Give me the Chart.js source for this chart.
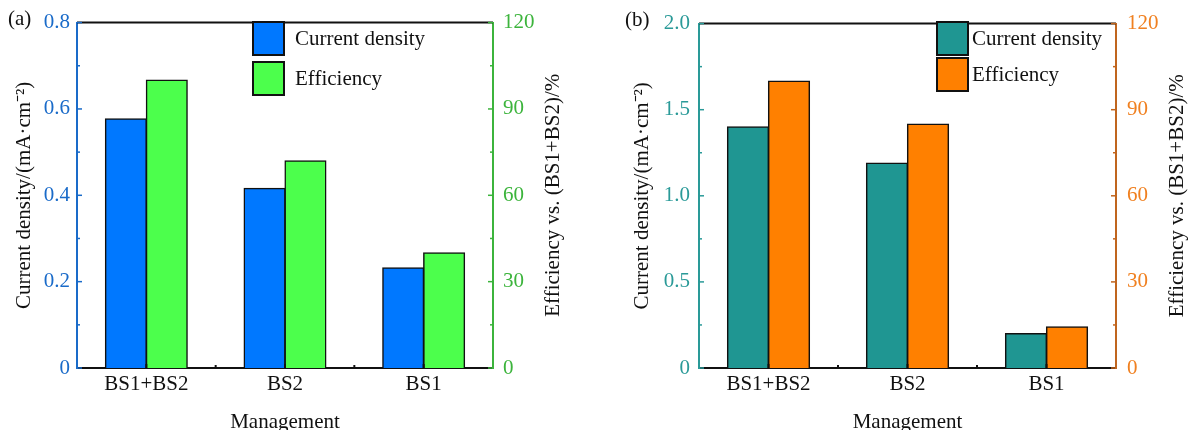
<!DOCTYPE html>
<html>
<head>
<meta charset="utf-8">
<script src="https://cdn.jsdelivr.net/npm/chart.js@4"></script>
<style>
  html, body { margin: 0; padding: 0; background: #ffffff; }
  #wrap { position: relative; width: 1192px; height: 430px; overflow: hidden; }
  .panel { position: absolute; top: 0; width: 596px; height: 430px; }
  canvas { display: block; }
</style>
</head>
<body>
<div id="wrap">
  <div class="panel" style="left:0"><canvas id="chartA" width="596" height="430"></canvas></div>
  <div class="panel" style="left:596px"><canvas id="chartB" width="596" height="430"></canvas></div>
</div>
<script>
// Treatments on the x axis
const categories = ['BS1+BS2', 'BS2', 'BS1'];
const seriesNames = ['Current density', 'Efficiency'];

// Panel (a)
const densityA = [0.577, 0.416, 0.232];     // mA·cm⁻²
const efficiencyA = [100, 72, 40];          // % of BS1+BS2
const leftTicksA = ['0', '0.2', '0.4', '0.6', '0.8'];
const rightTicksA = ['0', '30', '60', '90', '120'];

// Panel (b)
const densityB = [1.40, 1.19, 0.20];
const efficiencyB = [100, 85, 14.3];
const leftTicksB = ['0', '0.5', '1.0', '1.5', '2.0'];
const rightTicksB = ['0', '30', '60', '90', '120'];

const FONT = "'Liberation Serif', 'Times New Roman', serif";

// Frame, inward ticks, axis titles, panel tag and legend
const decorPlugin = {
  id: 'decor',
  afterDatasetsDraw(chart, args, o) {
    const ctx = chart.ctx;
    const ca = chart.chartArea;
    const yL = chart.scales.y, yR = chart.scales.y2, x = chart.scales.x;
    ctx.save();

    // top frame line
    ctx.strokeStyle = '#111';
    ctx.lineWidth = 2;
    ctx.beginPath();
    ctx.moveTo(ca.left, ca.top);
    ctx.lineTo(ca.right, ca.top);
    ctx.stroke();

    // inward ticks (major + minor) on both value axes
    const drawAxisTicks = (scale, xEdge, dir, color) => {
      const t = scale.ticks.map(k => k.value);
      ctx.strokeStyle = color;
      ctx.lineWidth = 1.5;
      for (let i = 0; i < t.length; i++) {
        const py = scale.getPixelForValue(t[i]);
        ctx.beginPath(); ctx.moveTo(xEdge, py); ctx.lineTo(xEdge + dir * 5, py); ctx.stroke();
        if (i < t.length - 1) {
          const pm = scale.getPixelForValue((t[i] + t[i + 1]) / 2);
          ctx.beginPath(); ctx.moveTo(xEdge, pm); ctx.lineTo(xEdge + dir * 3, pm); ctx.stroke();
        }
      }
    };
    drawAxisTicks(yL, ca.left, 1, o.leftColor);
    drawAxisTicks(yR, ca.right, -1, o.rightColor);

    // category ticks on the bottom axis
    ctx.strokeStyle = '#111';
    ctx.lineWidth = 2;
    const n = categories.length;
    for (let i = 0; i < n; i++) {
      const cx = x.getPixelForValue(i);
      ctx.beginPath(); ctx.moveTo(cx, ca.bottom); ctx.lineTo(cx, ca.bottom - 4); ctx.stroke();
      if (i < n - 1) {
        const bx = (cx + x.getPixelForValue(i + 1)) / 2;
        ctx.beginPath(); ctx.moveTo(bx, ca.bottom); ctx.lineTo(bx, ca.bottom - 3); ctx.stroke();
      }
    }
    ctx.restore();
  },
  afterDraw(chart, args, o) {
    const ctx = chart.ctx;
    const ca = chart.chartArea;
    const midY = (ca.top + ca.bottom) / 2;
    ctx.save();
    ctx.font = '21px ' + FONT;
    ctx.fillStyle = '#111';
    ctx.textBaseline = 'middle';

    // panel tag
    ctx.textAlign = 'left';
    ctx.fillText(o.tag, o.tagX, o.tagY);

    // x axis title
    ctx.textAlign = 'center';
    ctx.fillText(o.xTitle, (ca.left + ca.right) / 2, o.xTitleY);

    // y axis titles, both reading upward
    ctx.save();
    ctx.translate(o.leftTitleX, midY);
    ctx.rotate(-Math.PI / 2);
    ctx.fillText(o.leftTitle, 0, 0);
    ctx.restore();
    ctx.save();
    ctx.translate(o.rightTitleX, midY);
    ctx.rotate(-Math.PI / 2);
    ctx.fillText(o.rightTitle, 0, 0);
    ctx.restore();

    // legend
    ctx.textAlign = 'left';
    chart.data.datasets.forEach((ds, i) => {
      const bx = ca.left + o.legendX;
      const by = o.legendY + i * o.legendGap;
      ctx.fillStyle = ds.backgroundColor;
      ctx.fillRect(bx, by, 31, 33);
      ctx.strokeStyle = '#111';
      ctx.lineWidth = 2;
      ctx.strokeRect(bx, by, 31, 33);
      ctx.fillStyle = '#111';
      ctx.fillText(ds.label, bx + o.textGap, by + 17);
    });
    ctx.restore();
  }
};

function makeChart(id, density, efficiency, leftMax, leftStep, leftTicks, rightTicks, style) {
  return new Chart(document.getElementById(id), {
    type: 'bar',
    data: {
      labels: categories,
      datasets: [
        { label: seriesNames[0], data: density, yAxisID: 'y',
          backgroundColor: style.c1, borderColor: '#111', borderWidth: 1.5, inflateAmount: 0.6 },
        { label: seriesNames[1], data: efficiency, yAxisID: 'y2',
          backgroundColor: style.c2, borderColor: '#111', borderWidth: 1.5, inflateAmount: 0.6 }
      ]
    },
    options: {
      responsive: false,
      devicePixelRatio: 1,
      animation: false,
      categoryPercentage: 0.59,
      barPercentage: 1.0,
      layout: { padding: { top: 16, bottom: 0, left: 0, right: 0 } },
      plugins: {
        legend: { display: false },
        tooltip: { enabled: false },
        decor: style.decor
      },
      scales: {
        x: {
          grid: { display: false, drawTicks: false },
          border: { color: '#111', width: 2 },
          ticks: { color: '#111', font: { family: FONT, size: 21 }, padding: 4, maxRotation: 0 },
          afterFit: s => { s.height = 62; }
        },
        y: {
          position: 'left',
          min: 0, max: leftMax,
          grid: { display: false, drawTicks: false },
          border: { color: style.leftColor, width: 2 },
          ticks: { stepSize: leftStep, color: style.leftText, padding: style.leftPad,
                   font: { family: FONT, size: 21 },
                   callback: (v, i) => leftTicks[i] },
          afterFit: s => { s.width = style.leftWidth; }
        },
        y2: {
          position: 'right',
          min: 0, max: 120,
          grid: { display: false, drawTicks: false },
          border: { color: style.rightColor, width: 2 },
          ticks: { stepSize: 30, color: style.rightText, padding: style.rightPad,
                   font: { family: FONT, size: 21 },
                   callback: (v, i) => rightTicks[i] },
          afterFit: s => { s.width = style.rightWidth; }
        }
      }
    },
    plugins: [decorPlugin]
  });
}

makeChart('chartA', densityA, efficiencyA, 0.8, 0.2, leftTicksA, rightTicksA, {
  c1: '#0078ff', c2: '#4cff4c',
  leftColor: '#1a6bc9', leftText: '#1a6bc9', rightColor: '#3cb43c', rightText: '#3cb43c',
  leftWidth: 77, rightWidth: 103, leftPad: 7, rightPad: 10,
  decor: {
    tag: '(a)', tagX: 8, tagY: 19, xTitle: 'Management', xTitleY: 422,
    leftTitle: 'Current density/(mA·cm⁻²)', leftTitleX: 24,
    rightTitle: 'Efficiency vs. (BS1+BS2)/%', rightTitleX: 553,
    leftColor: '#1a6bc9', rightColor: '#3cb43c',
    legendX: 176, legendY: 22, legendGap: 40, textGap: 42
  }
});

makeChart('chartB', densityB, efficiencyB, 2.0, 0.5, leftTicksB, rightTicksB, {
  c1: '#1f9692', c2: '#ff8000',
  leftColor: '#2a9a98', leftText: '#2a9a98', rightColor: '#c0651e', rightText: '#f08020',
  leftWidth: 103, rightWidth: 76, leftPad: 9, rightPad: 11,
  decor: {
    tag: '(b)', tagX: 29, tagY: 20, xTitle: 'Management', xTitleY: 422,
    leftTitle: 'Current density/(mA·cm⁻²)', leftTitleX: 46,
    rightTitle: 'Efficiency vs. (BS1+BS2)/%', rightTitleX: 581,
    leftColor: '#2a9a98', rightColor: '#c0651e',
    legendX: 238, legendY: 22, legendGap: 36, textGap: 35
  }
});
</script>
</body>
</html>
